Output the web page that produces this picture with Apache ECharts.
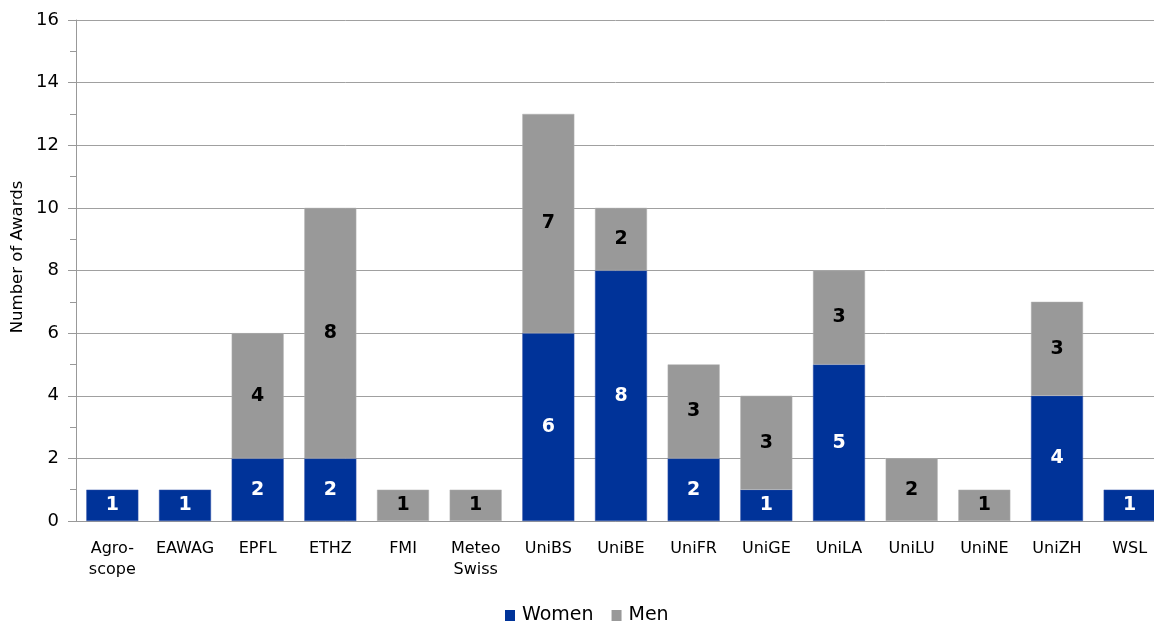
<!DOCTYPE html>
<html><head><meta charset="utf-8">
<script src="https://cdn.jsdelivr.net/npm/echarts@6/dist/echarts.min.js"></script>
<style>html,body{margin:0;padding:0;background:#fff}#c{width:1154px;height:621px}</style>
</head><body><div id="c"></div>
<script>
const categories = ['Agro-\nscope','EAWAG','EPFL','ETHZ','FMI','Meteo\nSwiss','UniBS','UniBE','UniFR','UniGE','UniLA','UniLU','UniNE','UniZH','WSL'];
const women = [1,1,2,2,0,0,6,8,2,1,5,0,0,4,1];
const men   = [0,0,4,8,1,1,7,2,3,3,3,2,1,3,0];
const yTicks = {min:0, max:16, interval:2};
const font = 'DejaVu Sans, Verdana, sans-serif';
const toData = a => a.map(v => v === 0 ? null : v);
const chart = echarts.init(document.getElementById('c'));
chart.setOption({
  animation:false,
  textStyle:{fontFamily:font},
  grid:{left:76, width:1090, top:20, height:501, outerBoundsMode:'none', containLabel:false},
  legend:{top:601, left:500, itemWidth:10, itemHeight:11, itemGap:18, icon:'rect',
    itemStyle:{borderWidth:0},
    textStyle:{fontSize:19, color:'#000', fontFamily:font, padding:[0,0,0,2]}, data:['Women','Men']},
  graphic:[{type:'text', x:18, y:257, rotation:Math.PI/2,
    style:{text:'Number of Awards', fill:'#000', font:'16.5px ' + font, align:'center', verticalAlign:'middle'}}],
  xAxis:{type:'category', data:categories,
    axisLine:{lineStyle:{color:'#999', width:1}}, axisTick:{show:false},
    axisLabel:{color:'#000', fontSize:16, fontFamily:font, margin:17, lineHeight:21, interval:0}},
  yAxis:{type:'value', min:yTicks.min, max:yTicks.max, interval:yTicks.interval,
    axisLine:{show:true, lineStyle:{color:'#999'}},
    axisTick:{show:true, inside:false, length:8, lineStyle:{color:'#999'}},
    minorTick:{show:true, splitNumber:2, length:6, lineStyle:{color:'#999'}},
    splitLine:{show:true, lineStyle:{color:'#a0a0a0', width:1}},
    axisLabel:{color:'#000', fontSize:18, fontFamily:font, margin:17}},
  series:[
    {name:'Women', type:'bar', stack:'a', data:toData(women), barWidth:52,
     itemStyle:{color:'#003399', borderColor:'#3355aa', borderWidth:0.5},
     label:{show:true, position:'inside', color:'#fff', fontWeight:'bold', fontSize:19, fontFamily:font}},
    {name:'Men', type:'bar', stack:'a', data:toData(men), barWidth:52,
     itemStyle:{color:'#999999', borderColor:'#b0b0b0', borderWidth:0.5},
     label:{show:true, position:'inside', color:'#000', fontWeight:'bold', fontSize:19, fontFamily:font}}
  ]
});
</script></body></html>
